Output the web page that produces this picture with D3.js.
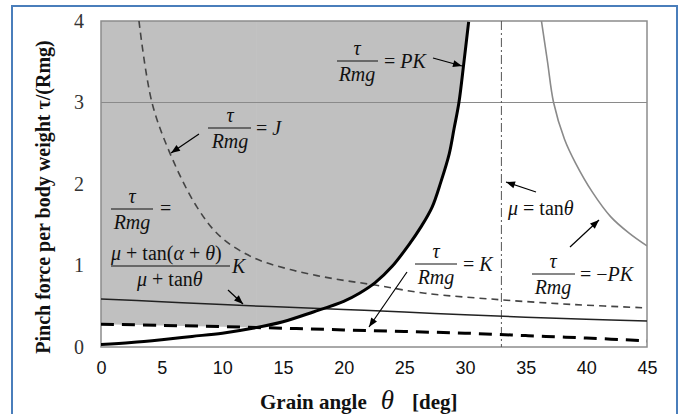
<!DOCTYPE html>
<html><head><meta charset="utf-8">
<script src="https://cdn.jsdelivr.net/npm/d3@7/dist/d3.min.js"></script>
<style>
body{margin:0;background:#fff;}
svg{display:block;}
</style></head>
<body><svg id="c" width="684" height="414"></svg>
<script>
// ---- data ----
const xTicks = [0,5,10,15,20,25,30,35,40,45];
const yTicks = [0,1,2,3,4];
// tau/Rmg = PK (thick black)
const pkX = [0, 2.5, 5, 7.5, 10, 12.5, 15, 17.5, 20, 21.3, 22.6, 24, 25.4, 26.4, 27.3, 28.0, 28.7, 29.1, 29.5, 29.9, 30.3];
const pkY = [0.03,0.055,0.09,0.13,0.17,0.23,0.31,0.43,0.56,0.66,0.79,0.99,1.26,1.48,1.72,2.02,2.37,2.68,3.0,3.48,3.99];
// tau/Rmg = J (thin dashed)
const jX = [3.13, 4.2, 5.85, 7.9, 9.8, 12.5, 15.6, 19.1, 22.6, 26.7, 32.9, 39.1, 45];
const jY = [4.0, 3.0, 2.32, 1.72, 1.36, 1.10, 0.95, 0.84, 0.76, 0.66, 0.58, 0.52, 0.48];
// tau/Rmg = (mu+tan(a+th))/(mu+tan th) K (thin solid)
const midX = [0,5,10,15,20,25,30,35,40,45];
const midY = [0.59,0.555,0.52,0.49,0.46,0.43,0.395,0.365,0.34,0.32];
// tau/Rmg = K (thick dashed)
const kX = [0,5,10,15,20,25,30,35,40,45];
const kY = [0.28,0.265,0.25,0.23,0.21,0.19,0.17,0.14,0.11,0.075];
// tau/Rmg = -PK (gray)
const npkX = [36.3, 36.8, 37.3, 38.2, 39.1, 40.5, 42, 43.5, 45];
const npkY = [4.0, 3.5, 3.0, 2.55, 2.26, 1.9, 1.6, 1.4, 1.24];
// mu = tan theta
const muX = 33;

const SERIF = '"Liberation Serif", "Times New Roman", serif';
const SANS = '"Liberation Sans", Arial, sans-serif';

// ---- layout ----
const svg = d3.select("#c");
const x = d3.scaleLinear().domain([0,45]).range([101,647]);
const y = d3.scaleLinear().domain([0,4]).range([347,21]);
const zip = (xs, ys) => xs.map((v,i)=>[v, ys[i]]);
const line = d3.line().x(d=>x(d[0])).y(d=>y(d[1])).curve(d3.curveCatmullRom.alpha(0.5));

// outer blue frame
svg.append("rect").attr("x",12).attr("y",6).attr("width",665).attr("height",420)
  .attr("fill","none").attr("stroke","#4a7ebb").attr("stroke-width",2);

svg.append("defs").append("clipPath").attr("id","clip").append("rect")
  .attr("x",x(0)).attr("y",y(4)).attr("width",x(45)-x(0)).attr("height",y(0)-y(4));

function interp(xs, ys, v){
  if (v <= xs[0]) return ys[0];
  for (let i=1;i<xs.length;i++){ if (v<=xs[i]){ const t=(v-xs[i-1])/(xs[i]-xs[i-1]); return ys[i-1]+t*(ys[i]-ys[i-1]); } }
  return ys[ys.length-1];
}
const xsAll = Array.from(new Set(pkX.concat(kX.filter(v=>v<=pkX[pkX.length-1])))).sort((a,b)=>a-b);
let cross = 0;
for (let i=1;i<xsAll.length;i++){
  const a=xsAll[i-1], b=xsAll[i];
  const da=interp(pkX,pkY,a)-interp(kX,kY,a), db=interp(pkX,pkY,b)-interp(kX,kY,b);
  if (da<0 && db>=0){ cross = a + (b-a)*(-da)/(db-da); }
}
const lowPts = kX.filter(v=>v<cross).map((v,i)=>[v, kY[i]]).concat([[cross, interp(kX,kY,cross)]]);
const highPts = zip(pkX,pkY).filter(d=>d[0]>cross);
const g0 = svg.append("g").attr("clip-path","url(#clip)");
g0.append("path").datum(lowPts).attr("d",d3.area().x(d=>x(d[0])).y0(y(4)).y1(d=>y(d[1]))).attr("fill","#c0c0c0");
g0.append("path").datum([[cross, interp(kX,kY,cross)]].concat(highPts))
  .attr("d", d3.area().x(d=>x(d[0])).y0(y(4)).y1(d=>y(d[1])).curve(d3.curveCatmullRom.alpha(0.5)))
  .attr("fill","#c0c0c0");

// gridline at 3
svg.append("line").attr("x1",x(0)).attr("x2",x(45)).attr("y1",y(3)).attr("y2",y(3))
  .attr("stroke","#8a8a8a").attr("stroke-width",1.2);

// plot border
svg.append("rect").attr("x",x(0)).attr("y",y(4)).attr("width",x(45)-x(0)).attr("height",y(0)-y(4))
  .attr("fill","none").attr("stroke","#8c8c8c").attr("stroke-width",1.5);

const g = svg.append("g").attr("clip-path","url(#clip)");
g.append("line").attr("x1",x(muX)).attr("x2",x(muX)).attr("y1",y(4)).attr("y2",y(0))
  .attr("stroke","#555").attr("stroke-width",1).attr("stroke-dasharray","9,3,2,3");
g.append("path").datum(zip(npkX,npkY)).attr("d",line).attr("fill","none").attr("stroke","#8a8a8a").attr("stroke-width",1.6);
g.append("path").datum(zip(jX,jY)).attr("d",line).attr("fill","none").attr("stroke","#444").attr("stroke-width",1.6).attr("stroke-dasharray","7,5");
g.append("path").datum(zip(midX,midY)).attr("d",line).attr("fill","none").attr("stroke","#222").attr("stroke-width",1.5);
g.append("path").datum(zip(kX,kY)).attr("d",line).attr("fill","none").attr("stroke","#000").attr("stroke-width",3).attr("stroke-dasharray","13,8");
g.append("path").datum(zip(pkX,pkY)).attr("d",line).attr("fill","none").attr("stroke","#000").attr("stroke-width",3);

// axes
const xa = svg.append("g").attr("transform",`translate(0,${y(0)})`)
  .call(d3.axisBottom(x).tickValues(xTicks).tickSize(0).tickPadding(14).tickFormat(d3.format("d")));
xa.select(".domain").remove();
xa.selectAll("text").style("font-family",SANS).style("font-size","18px").attr("fill","#111");
const ya = svg.append("g").attr("transform",`translate(${x(0)},0)`)
  .call(d3.axisLeft(y).tickValues(yTicks).tickSize(0).tickPadding(17).tickFormat(d3.format("d")));
ya.select(".domain").remove();
ya.selectAll("text").style("font-family",SERIF).style("font-size","20px").attr("fill","#333");

// axis titles
svg.append("text").attr("transform","translate(50,197) rotate(-90)").attr("text-anchor","middle")
  .style("font-family",SERIF).style("font-weight","bold").style("font-size","20px").attr("fill","#111")
  .text("Pinch force per body weight τ/(Rmg)");
const xt = svg.append("text").attr("x",260).attr("y",409)
  .style("font-family",SERIF).style("font-size","21px").attr("fill","#111");
xt.append("tspan").style("font-weight","bold").text("Grain angle");
xt.append("tspan").attr("dx",14).style("font-style","italic").style("font-size","27px").text("θ");
xt.append("tspan").attr("dx",18).style("font-weight","bold").text("[deg]");

// math labels
const M = svg.append("g").style("font-family",SERIF).style("font-size","20px").attr("fill","#111");
function frac(cx, x1, x2, ly, num, den){
  M.append("text").attr("x",cx).attr("y",ly-6).attr("text-anchor","middle").style("font-style","italic").text(num);
  M.append("line").attr("x1",x1).attr("x2",x2).attr("y1",ly).attr("y2",ly).attr("stroke","#111").attr("stroke-width",1);
  M.append("text").attr("x",cx).attr("y",ly+20).attr("text-anchor","middle").style("font-style","italic").text(den);
}
function rhs(xp, yp, parts){
  const t = M.append("text").attr("x",xp).attr("y",yp);
  parts.forEach(p=>t.append("tspan").style("font-style",p[1]?"italic":"normal").text(p[0]));
}
function arrow(x1,y1,x2,y2){
  M.append("line").attr("x1",x1).attr("y1",y1).attr("x2",x2).attr("y2",y2).attr("stroke","#000").attr("stroke-width",1.2);
  const a = Math.atan2(y2-y1,x2-x1), L=9, W=3.5;
  const p = [[x2,y2],[x2-L*Math.cos(a)+W*Math.sin(a), y2-L*Math.sin(a)-W*Math.cos(a)],[x2-L*Math.cos(a)-W*Math.sin(a), y2-L*Math.sin(a)+W*Math.cos(a)]];
  M.append("polygon").attr("points",p.map(q=>q.join(",")).join(" ")).attr("fill","#000");
}
frac(357, 337, 378, 61, "τ", "Rmg"); rhs(384, 68, [["= ",false],["PK",true]]);
arrow(433, 58, 462, 66);
frac(230, 208, 251, 128, "τ", "Rmg"); rhs(256, 135, [["= ",false],["J",true]]);
arrow(199, 134, 171, 153);
frac(132, 111, 153, 209, "τ", "Rmg"); rhs(160, 215, [["=",false]]);
M.append("line").attr("x1",111).attr("x2",230).attr("y1",266).attr("y2",266).attr("stroke","#111").attr("stroke-width",1);
rhs(111, 260, [["μ",true],[" + tan(",false],["α",true],[" + ",false],["θ",true],[")",false]]);
rhs(137, 286, [["μ",true],[" + tan",false],["θ",true]]);
rhs(232, 273, [["K",true]]);
arrow(228, 290, 243, 304);
frac(436, 415, 457, 264, "τ", "Rmg"); rhs(463, 271, [["= ",false],["K",true]]);
arrow(407, 272, 369, 327);
frac(553, 532, 575, 274, "τ", "Rmg"); rhs(580, 281, [["= −",false],["PK",true]]);
arrow(570, 247, 599, 220);
rhs(508, 215, [["μ",true],[" = tan",false],["θ",true]]);
arrow(536, 192, 506, 182);
</script></body></html>
